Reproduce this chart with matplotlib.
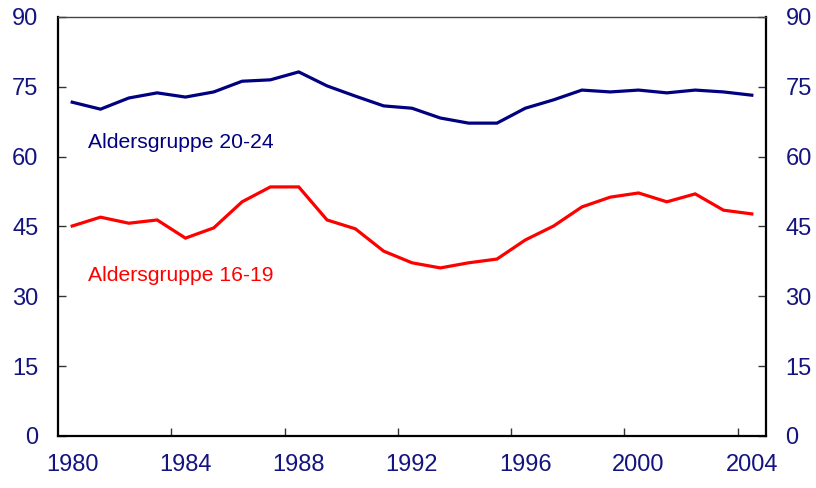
import numpy as np
import matplotlib
matplotlib.use("Agg")
import matplotlib.pyplot as plt

plt.rcParams['font.family'] = ['Liberation Sans', 'DejaVu Sans']

# data
years = list(range(1980, 2005))
age_20_24 = [71.7, 70.2, 72.6, 73.7, 72.8, 73.9, 76.2, 76.5, 78.2, 75.2, 73.0, 70.9, 70.4,
             68.3, 67.2, 67.2, 70.4, 72.2, 74.3, 73.9, 74.3, 73.7, 74.3, 73.9, 73.2]
age_16_19 = [45.1, 47.0, 45.7, 46.4, 42.5, 44.7, 50.3, 53.5, 53.5, 46.4, 44.5, 39.7, 37.2,
             36.1, 37.2, 38.0, 42.1, 45.1, 49.2, 51.3, 52.2, 50.3, 52.0, 48.5, 47.7]
label_years = years[::4]
y_ticks = [0, 15, 30, 45, 60, 75, 90]

navy = '#000080'
red = '#ff0000'
txt = '#141480'

fig = plt.figure(figsize=(8.16, 4.88), dpi=100)
ax = fig.add_axes([0.0711, 0.1066, 0.8676, 0.8586])

ax.plot(years, age_20_24, color=navy, lw=2.3, solid_joinstyle='miter')
ax.plot(years, age_16_19, color=red, lw=2.3, solid_joinstyle='miter')

ax.text(1980.55, 63.1, 'Aldersgruppe 20-24', color=navy, fontsize=15.2, va='center')
ax.text(1980.55, 34.4, 'Aldersgruppe 16-19', color=red, fontsize=15.2, va='center')

ax.set_xlim(years[0] - 0.5, years[-1] + 0.5)
ax.set_ylim(0, 90)

# category-style axis: ticks between categories, labels on the categories
ax.set_xticks([y - 0.5 for y in label_years[1:]])
ax.set_xticklabels([])
ax.set_xticks(label_years, minor=True)
ax.set_xticklabels([str(y) for y in label_years], minor=True)
ax.tick_params(axis='x', which='major', direction='in', length=6, width=1, color='#333333')
ax.tick_params(axis='x', which='minor', length=0, pad=13, labelsize=17, labelcolor=txt)

ax.set_yticks(y_ticks)
ax.yaxis.set_ticks_position('both')
ax.tick_params(axis='y', direction='in', length=6, width=1, color='#333333',
               labelleft=True, labelright=True, labelsize=17, labelcolor=txt, pad=14)

for side in ['left', 'right', 'bottom']:
    ax.spines[side].set_linewidth(1.6)
    ax.spines[side].set_color('black')
ax.spines['top'].set_linewidth(1.0)
ax.spines['top'].set_color('#444444')

fig.savefig('out.png', dpi=100)
